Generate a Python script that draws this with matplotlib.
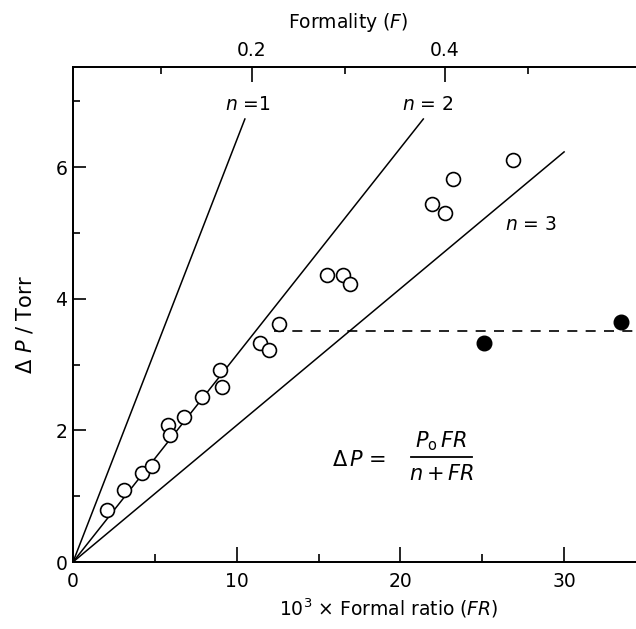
import numpy as np
import matplotlib
matplotlib.use('Agg')
import matplotlib.pyplot as plt

# pontos abertos (FR x 10^3, delta P / Torr)
fr_open = [2.1, 3.1, 4.2, 4.8, 5.8, 5.9, 6.8, 7.9, 9.0, 9.1, 11.4, 12.0, 12.6,
           15.5, 16.5, 16.9, 21.9, 22.7, 23.2, 26.9]
dp_open = [0.79, 1.09, 1.35, 1.46, 2.08, 1.93, 2.20, 2.51, 2.92, 2.66, 3.32, 3.22, 3.62,
           4.36, 4.36, 4.22, 5.44, 5.30, 5.82, 6.11]

# pontos cheios
fr_filled = [25.1, 33.5]
dp_filled = [3.33, 3.65]

# retas n = 1, 2, 3 (da origem ate o fim)
n_labels = ['$n$ =1', '$n$ = 2', '$n$ = 3']
line_end_fr = [10.5, 21.4, 30.0]
line_end_dp = [6.73, 6.73, 6.23]

# linha tracejada
dash_fr = [12.3, 40.0]
dash_dp = [3.51, 3.51]

# eixo de cima: formalidade
f_major_pos = [10.93, 22.7]
f_major_lab = ['0.2', '0.4']
f_minor_pos = [5.38, 16.6, 27.8]

fs = 13.5
plt.rcParams['font.family'] = 'DejaVu Sans'
plt.rcParams['mathtext.fontset'] = 'dejavusans'

fig = plt.figure(figsize=(6.36, 6.29), dpi=100)
ax = fig.add_axes([73/636, 67/629, 36*16.37/636, 495/629])

for fe, de in zip(line_end_fr, line_end_dp):
    ax.plot([0, fe], [0, de], color='black', lw=1.1)

ax.plot(dash_fr, dash_dp, color='black', lw=1.2, ls=(0, (6, 5)))

ax.plot(fr_open, dp_open, 'o', ms=10, mfc='white', mec='black', mew=1.2, ls='none')
ax.plot(fr_filled, dp_filled, 'o', ms=10.5, mfc='black', mec='black', ls='none')

ax.text(10.7, 6.95, n_labels[0], fontsize=fs, ha='center', va='center')
ax.text(21.7, 6.95, n_labels[1], fontsize=fs, ha='center', va='center')
ax.text(28.0, 5.12, n_labels[2], fontsize=fs, ha='center', va='center')

# equacao
ax.text(17.5, 1.55, r'$\Delta\,P$ =', fontsize=fs + 1.5, ha='center', va='center')
ax.text(22.5, 1.84, r'$P_{\rm o}\,FR$', fontsize=fs + 1.5, ha='center', va='center')
ax.text(22.5, 1.33, r'$n+FR$', fontsize=fs + 1.5, ha='center', va='center')
ax.plot([20.65, 24.4], [1.60, 1.60], color='black', lw=1.3)

ax.set_xlim(0, 36)
ax.set_ylim(0, 7.52)
ax.set_xticks([0, 10, 20, 30])
ax.set_xticks([5, 15, 25], minor=True)
ax.set_yticks([0, 2, 4, 6])
ax.set_yticks([1, 3, 5, 7], minor=True)
ax.tick_params(which='both', direction='in', labelsize=fs, width=1.2)
ax.tick_params(axis='x', which='major', length=11, pad=7)
ax.tick_params(axis='x', which='minor', length=5.5)
ax.tick_params(axis='y', which='major', length=9.5, pad=4)
ax.tick_params(axis='y', which='minor', length=5)

ax2 = ax.twiny()
ax2.set_xlim(ax.get_xlim())
ax2.set_xticks(f_major_pos)
ax2.set_xticklabels(f_major_lab)
ax2.set_xticks(f_minor_pos, minor=True)
ax2.tick_params(which='both', direction='in', labelsize=fs, width=1.2, pad=5)
ax2.tick_params(which='major', length=11)
ax2.tick_params(which='minor', length=5)

for a in (ax, ax2):
    for s in a.spines.values():
        s.set_linewidth(1.3)

fig.text(348/636, 1 - 23/629, r'Formality ($F$)', fontsize=fs, ha='center', va='center')
fig.text(389/636, 1 - 608/629, r'$10^3$ × Formal ratio ($FR$)', fontsize=fs, ha='center', va='center')
fig.text(25/636, 1 - 325/629, r'$\Delta\ P$ / Torr', fontsize=fs + 1.5, ha='center', va='center', rotation=90)

fig.savefig('out.png', dpi=100)
